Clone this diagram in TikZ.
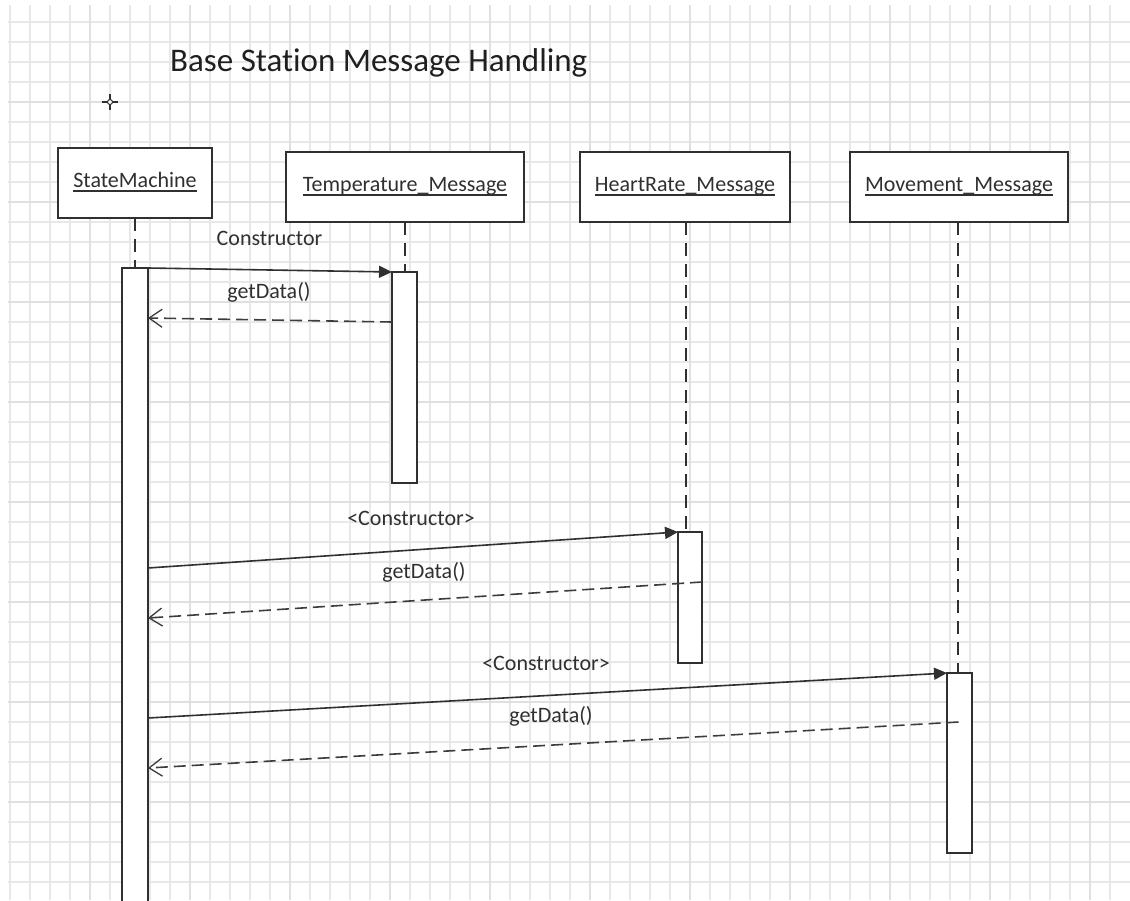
\documentclass[tikz,border=0pt]{standalone}
\usepackage{fontspec}
\setmainfont{Carlito}[Ligatures=NoCommon]
\usetikzlibrary{arrows.meta,calc}

\definecolor{ink}{HTML}{303030}
\definecolor{replyink}{HTML}{3C3C3C}
\definecolor{gridminor}{HTML}{E8E8E8}
\definecolor{gridmajor}{HTML}{E0E0E0}

\newcommand\lblfont{\fontsize{22}{26}\selectfont}
\newcommand\ttlfont{\fontsize{33}{40}\selectfont}
% underlined object name with the rule just under the baseline
\newcommand\ulbox[1]{\setbox0=\hbox{#1}\rlap{\rule[-4pt]{\wd0}{1.3pt}}\box0}

\tikzset{
  head/.style={draw=ink, line width=1.7pt, fill=white, inner sep=0pt, outer sep=0pt,
    minimum height=70pt, text height=15pt, text depth=6pt, font=\lblfont, text=ink},
  act/.style={draw=ink, line width=1.7pt, fill=white, inner sep=0pt, outer sep=0pt, anchor=north},
  life/.style={draw=ink, line width=1.6pt, dash pattern=on 13pt off 8pt},
  call/.style={draw=ink, line width=1.6pt, -{Triangle[length=13pt,width=12pt]}},
  reply/.style={draw=replyink, line width=1.6pt, dash pattern=on 12pt off 6pt,
    -{Straight Barb[length=13pt,width=18pt,line width=1.3pt]}},
  msg/.style={font=\lblfont, text=ink, anchor=base, inner sep=0pt},
}

\begin{document}
\begin{tikzpicture}[x=1pt,y=-1pt]
\clip (0,0) rectangle (1130,900);
\fill[white] (0,0) rectangle (1130,900);

% drawing grid
\foreach \i in {0,...,55}
  \draw[gridminor, line width=1.3pt] ({10+20*\i},5) -- ({10+20*\i},900);
\foreach \j in {0,...,43}
  \draw[gridminor, line width=1.3pt] (8,{22+20*\j}) -- (1130,{22+20*\j});
\foreach \i in {0,...,10}
  \draw[gridmajor, line width=1.3pt] ({90+100*\i},5) -- ({90+100*\i},900);
\foreach \j in {0,...,7}
  \draw[gridmajor, line width=1.3pt] (8,{102+100*\j}) -- (1130,{102+100*\j});

% origin marker
\draw[ink, line width=1.2pt] (102,102) -- (118,102) (110,94) -- (110,110);
\draw[ink, fill=white, line width=1pt] (110,102) circle (2.5pt);

% title
\node[anchor=base west, inner sep=0pt, font=\ttlfont, text=black!88] (title) at (170,71)
  {Base Station Message Handling};

% object heads
\node[head, minimum width=154pt] (smhead)   at (135,183) {\ulbox{StateMachine}};
\node[head, minimum width=238pt] (temphead) at (405,187) {\ulbox{Temperature\_Message}};
\node[head, minimum width=210pt] (hrhead)   at (685,187) {\ulbox{HeartRate\_Message}};
\node[head, minimum width=218pt] (mvhead)   at (959,187) {\ulbox{Movement\_Message}};

% activation bars
\node[act, minimum width=26pt, minimum height=650pt] (smact)   at (135,268) {};
\node[act, minimum width=25pt, minimum height=211pt] (tempact) at (404.5,272) {};
\node[act, minimum width=24pt, minimum height=131pt] (hract)   at (690,532) {};
\node[act, minimum width=25pt, minimum height=180pt] (mvact)   at (959.5,673) {};

% lifelines
\draw[life] (smhead.south) -- (smact.north);
\draw[life] (temphead.south) -- (temphead.south |- tempact.north);
\draw[life] ($(hrhead.south)+(1,0)$) -- ($(hrhead.south |- hract.north)+(1,0)$);
\draw[life] ($(mvhead.south)+(-1,0)$) -- ($(mvhead.south |- mvact.north)+(-1,0)$);

% messages
\draw[call]  (smact.north east) -- (tempact.north west);
\draw[reply] ($(tempact.north west)+(0,50)$) -- ($(smact.north east)+(0,50)$);
\draw[call]  ($(smact.north east)+(0,300)$) -- (hract.north west);
\draw[reply] ($(hract.north east)+(0,50)$) -- ($(smact.north east)+(0,350)$);
\draw[call]  ($(smact.north east)+(0,450)$) -- (mvact.north west);
\draw[reply] ($(mvact.north)+(-1,49)$) -- ($(smact.north east)+(0,500)$);

% message labels
\node[msg] (lc1) at (269.5,245) {Constructor};
\node[msg] (lg1) at (269,298)   {getData()};
\node[msg] (lc2) at (411,525)   {<Constructor>};
\node[msg] (lg2) at (424,578)   {getData()};
\node[msg] (lc3) at (546,670)   {<Constructor>};
\node[msg] (lg3) at (551,722)   {getData()};
\end{tikzpicture}
\end{document}
